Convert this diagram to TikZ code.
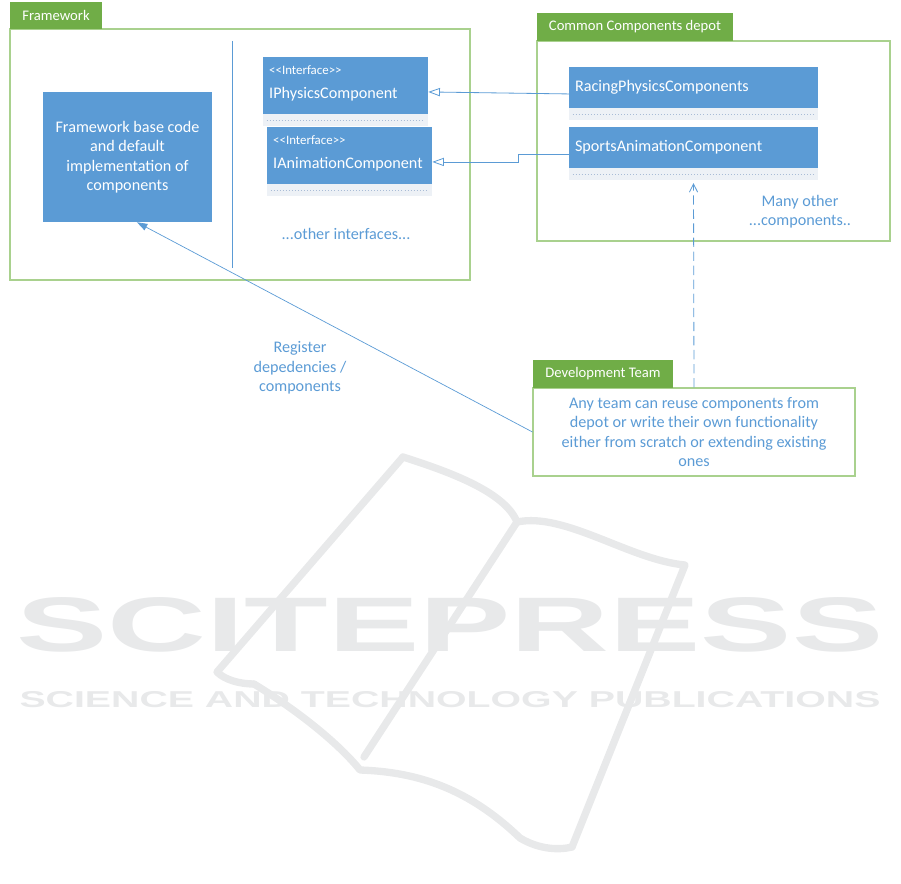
\documentclass[tikz,border=0pt]{standalone}
\usepackage{fontspec}
\setmainfont{Carlito}
\newfontfamily\markfont{Liberation Sans}
\usetikzlibrary{arrows.meta,positioning}
\definecolor{boxblue}{HTML}{5B9BD5}
\definecolor{tabgreen}{HTML}{70AD47}
\definecolor{framegreen}{HTML}{A9D18E}
\definecolor{stripgray}{HTML}{EDF1F6}
\definecolor{dotblue}{HTML}{A9BCD6}
\definecolor{markgray}{HTML}{E8E9EA}
\tikzset{%
    tab/.style={%
        rectangle, fill=tabgreen, text=white, inner sep=0pt, font=\fontsize{12.5}{15}\selectfont
    },
    area/.style={%
        rectangle, draw=framegreen, line width=0.9pt, inner sep=0pt
    },
    component/.style={%
        rectangle, fill=boxblue, text=white, inner sep=0pt
    },
    compbar/.style={%
        rectangle, fill=stripgray, inner sep=0pt,
        path picture={\draw[dotblue, dotted, line width=0.6pt] ([xshift=3pt]path picture bounding box.west) -- ([xshift=-3pt]path picture bounding box.east);}
    },
    stereo/.style={%
        text=white, inner sep=0pt, font=\fontsize{11}{13}\selectfont
    },
    boxtext/.style={%
        text=white, inner sep=0pt
    },
    note/.style={%
        text=boxblue, align=center, inner sep=0pt
    },
    realize/.style={%
        draw=boxblue, line width=0.7pt, -{Triangle[open, length=10pt, width=7pt]}
    },
    uses/.style={%
        draw=boxblue, line width=0.7pt, dash pattern=on 8pt off 4pt, -{Straight Barb[length=7pt, width=7pt]}
    },
    registers/.style={%
        draw=boxblue, line width=0.6pt, -{Triangle[length=9pt, width=6pt]}
    },
    watermark/.style={%
        draw=markgray, line width=2.2mm, line cap=round, line join=round
    },
}

\begin{document}
\begin{tikzpicture}[x=0.3mm, y=-0.3mm, font=\fontsize{13.8}{16.6}\selectfont]
  \useasboundingbox (0,0) rectangle (901,884);

  % publisher watermark
  \draw[watermark] (403,457) -- (217,672) .. controls (225,680) and (240,684) .. (254,684);
  \draw[watermark] (403,457) .. controls (450,472) and (505,492) .. (517,522);
  \draw[watermark] (517,522) .. controls (565,512) and (630,560) .. (685,565) -- (572,847);
  \draw[watermark] (517,522) -- (364,757);
  \draw[watermark] (254,684) .. controls (300,712) and (340,745) .. (360,770)
                   .. controls (420,772) and (470,790) .. (520,838) .. controls (540,850) and (560,850) .. (572,847);
  \node[text=markgray, font=\markfont\bfseries\fontsize{66}{66}\selectfont] (mark) at (450,625) {\scalebox{1.77}[1]{SCITEPRESS}};
  \node[text=markgray, font=\markfont\bfseries\fontsize{19.6}{20}\selectfont] (marksub) at (450,700) {\scalebox{1.71}[1]{SCIENCE AND TECHNOLOGY PUBLICATIONS}};

  % framework
  \node[area, minimum width=138mm, minimum height=75.3mm] (fw) at (240,154.5) {};
  \node[tab, minimum width=27.6mm, minimum height=8.1mm] (fwtab) at (56,15.5) {Framework};
  \draw[boxblue, line width=0.8pt] (232,41) -- (232,268);
  \node[component, minimum width=50.7mm, minimum height=39mm, align=center] (base) at (127.5,157) {Framework base code\\and default\\implementation of\\components};

  \node[component, minimum width=49.5mm, minimum height=17.1mm] (iphys) at (345.5,85.5) {};
  \node[compbar, below=0pt of iphys, minimum width=49.5mm, minimum height=3.6mm] (iphysbar) {};
  \node[stereo, anchor=west] (iphysst) at (269,70) {{<}{<}Interface{>}{>}};
  \node[boxtext, anchor=west] (iphysname) at (269,94) {IPhysicsComponent};

  \node[component, minimum width=49.5mm, minimum height=17.1mm] (ianim) at (349.5,155.5) {};
  \node[compbar, below=0pt of ianim, minimum width=49.5mm, minimum height=3.6mm] (ianimbar) {};
  \node[stereo, anchor=west] (ianimst) at (273,140) {{<}{<}Interface{>}{>}};
  \node[boxtext, anchor=west] (ianimname) at (273,164) {IAnimationComponent};

  \node[note] (others) at (346,234) {...other interfaces...};

  % depot
  \node[area, minimum width=105.9mm, minimum height=60mm] (depot) at (713.5,141) {};
  \node[tab, minimum width=58.8mm, minimum height=8.4mm] (depottab) at (635,27) {Common Components depot};
  \node[component, minimum width=74.7mm, minimum height=12.3mm, text width=71.1mm, align=left] (racing) at (693.5,87.5) {RacingPhysicsComponents};
  \node[compbar, below=0pt of racing, minimum width=74.7mm, minimum height=3.6mm] (racingbar) {};
  \node[component, minimum width=74.7mm, minimum height=12.3mm, text width=71.1mm, align=left] (sports) at (693.5,147.5) {SportsAnimationComponent};
  \node[compbar, below=0pt of sports, minimum width=74.7mm, minimum height=3.6mm] (sportsbar) {};
  \node[note] (many) at (800,211.5) {Many other\\...components..};

  % development team
  \node[area, minimum width=96.6mm, minimum height=26.4mm, align=center, text=boxblue] (dev) at (694,432) {Any team can reuse components from\\depot or write their own functionality\\either from scratch or extending existing\\ones};
  \node[tab, minimum width=42mm, minimum height=8.4mm] (devtab) at (603,374) {Development Team};
  \node[note] (register) at (300,368) {Register\\depedencies /\\components};

  \draw[realize] ([yshift=-5.5pt]racing.west) -- ([yshift=-5.5pt]iphys.east);
  \draw[realize] ([yshift=-5.5pt]sports.west) -- ++(-50,0) |- ([yshift=-5.5pt]ianim.east);
  \draw[uses] (dev.north) -- ([yshift=-2pt]sportsbar.south);
  \draw[registers] (dev.west) -- ([xshift=8pt]base.south);
\end{tikzpicture}
\end{document}
